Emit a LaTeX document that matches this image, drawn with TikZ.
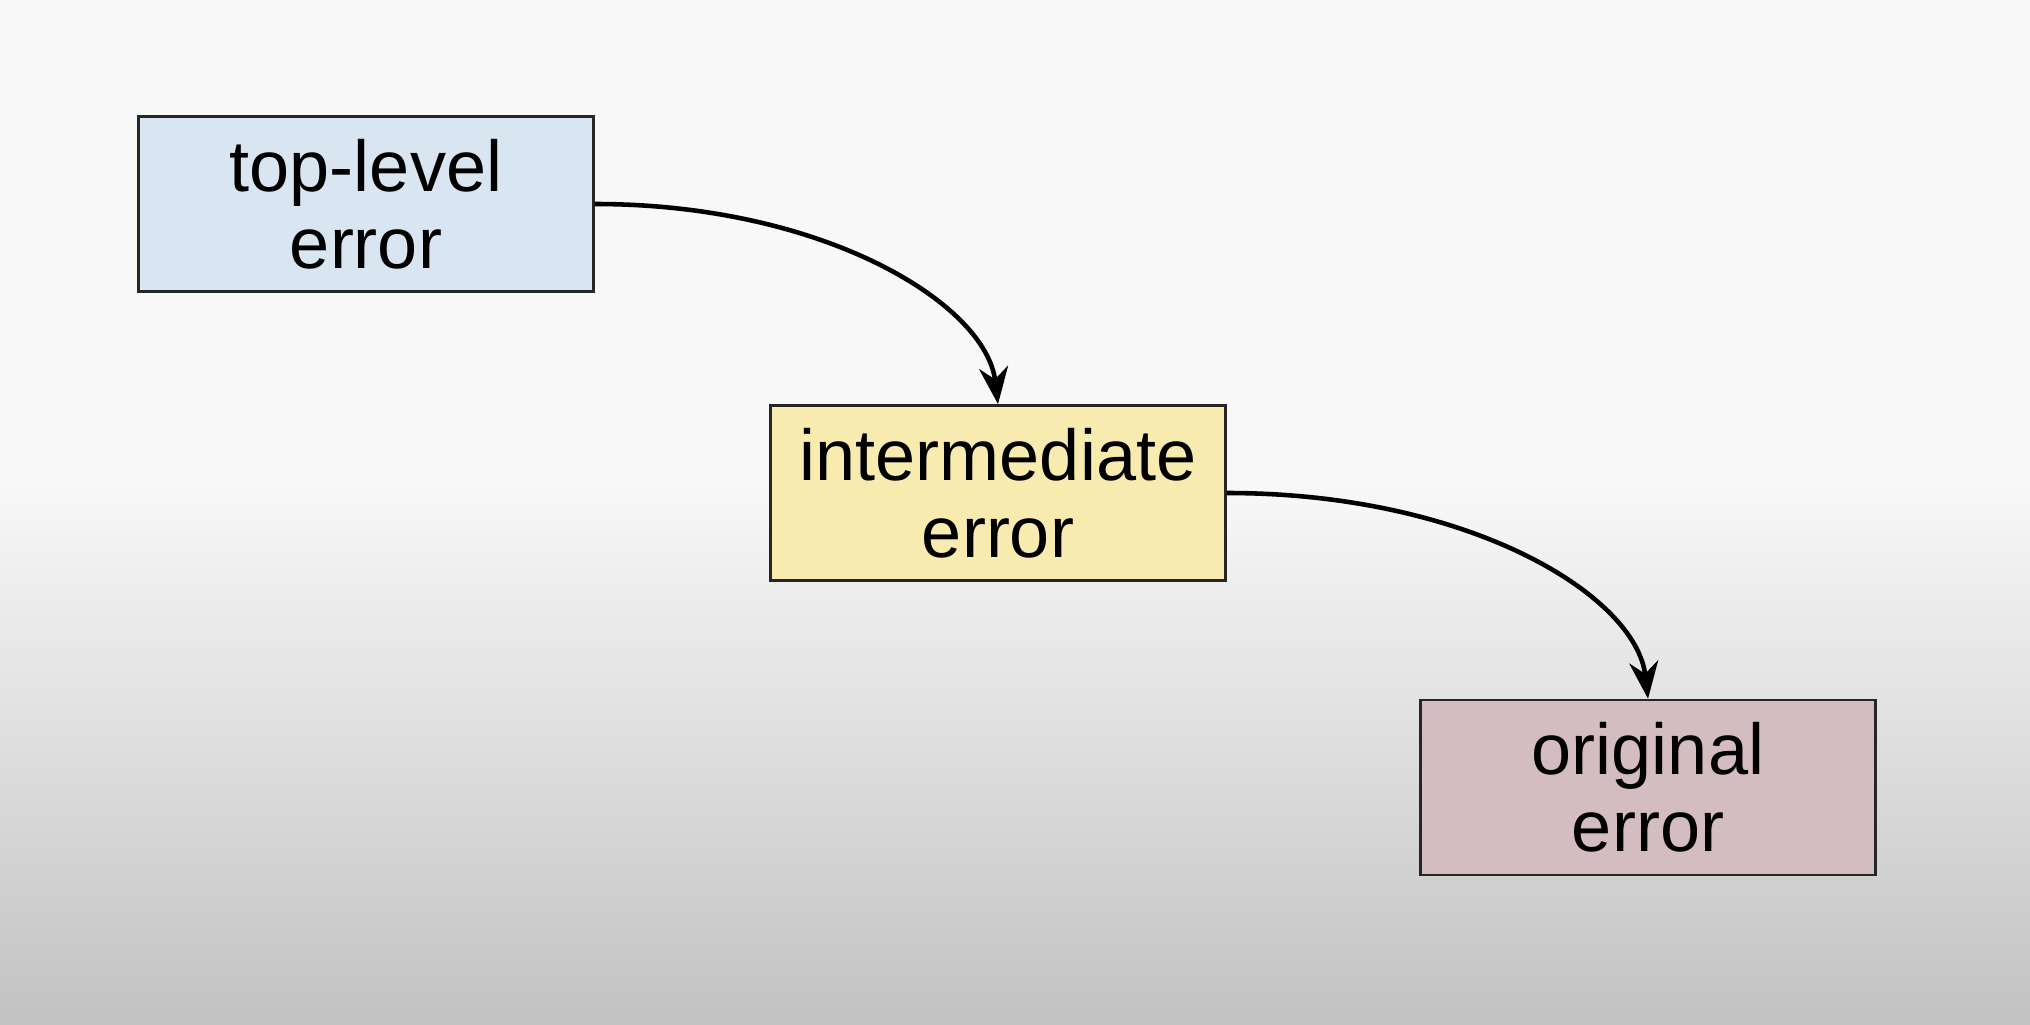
\documentclass[tikz,border=0pt]{standalone}
\usepackage{fontspec}
\setmainfont{Liberation Sans}
\usetikzlibrary{arrows.meta}
\definecolor{bgtop}{RGB}{248,248,248}
\definecolor{bgbot}{RGB}{194,194,194}
\definecolor{topfill}{RGB}{218,229,242}
\definecolor{midfill}{RGB}{248,235,176}
\definecolor{origfill}{RGB}{212,189,193}
\tikzset{
	errbox/.style={draw=black!85, line width=0.75pt, minimum width=4.55cm, minimum height=1.75cm, inner sep=0pt, align=center, font=\fontsize{20.5}{22}\selectfont},
	wraparrow/.style={line width=1.3pt, -{Stealth[length=0.37cm, width=0.29cm, inset=0.12cm]}}
}
\begin{document}
\begin{tikzpicture}
			\useasboundingbox (0,0) rectangle (20.3,10.24);
			\fill[bgtop] (0,5.4) rectangle (20.3,10.24);
			\fill[top color=bgtop, bottom color=bgbot] (0,0) rectangle (20.3,5.4);
			\node[errbox, fill=topfill] (toperr) at (3.66,8.20) {top-level\\error};
			\node[errbox, fill=midfill] (midderr) at (9.98,5.31) {intermediate\\error};
			\node[errbox, fill=origfill] (origerr) at (16.48,2.365) {original\\error};
			\draw[wraparrow] (toperr.east) .. controls +(2.3,0) and +(-0.12,1.0) .. (midderr.north);
			\draw[wraparrow] (midderr.east) .. controls +(2.43,0) and +(-0.12,1.03) .. (origerr.north);
		\end{tikzpicture}
\end{document}
